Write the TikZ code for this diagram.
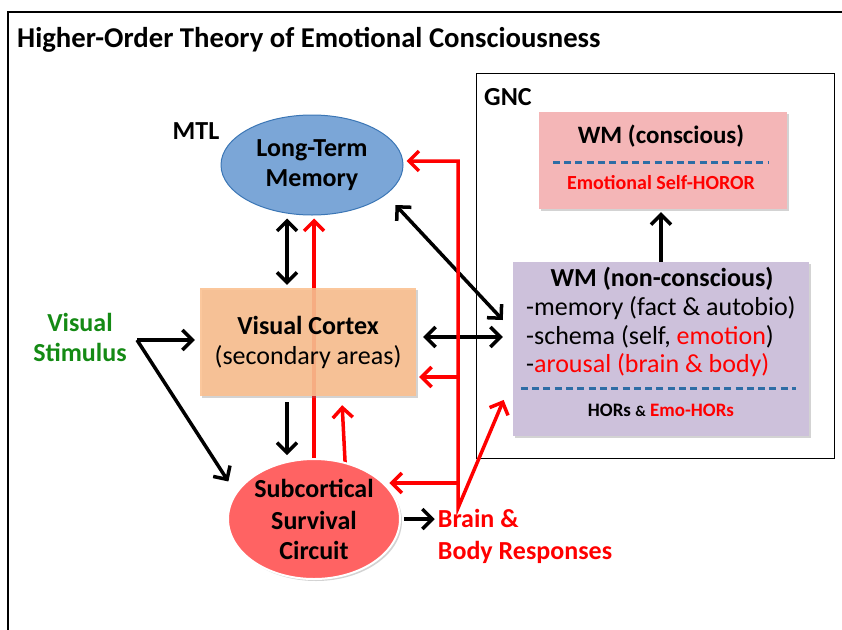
\documentclass[tikz,border=0pt]{standalone}
\usepackage{fontspec}
\setmainfont{Carlito}
\usetikzlibrary{positioning,arrows.meta,calc,shadows,shapes.geometric}
\tikzset{>={Straight Barb[length=10pt,width=20pt]}}
\definecolor{ltmblue}{HTML}{7BA6D7}
\definecolor{ltmedge}{HTML}{3B76B5}
\definecolor{vcpeach}{HTML}{FBBF8E}
\definecolor{wmpink}{HTML}{F4B6B7}
\definecolor{wmpurple}{HTML}{CDC1DB}
\definecolor{sscred}{HTML}{FF6363}
\definecolor{dashblue}{HTML}{2E6DA5}
\definecolor{stimgreen}{HTML}{148A14}
\pgfdeclarelayer{bg}
\pgfsetlayers{bg,main}

\begin{document}
\begin{tikzpicture}[x=1pt, y=-1pt, shorten >=3pt, shorten <=3pt,
    every node/.style={inner sep=0pt, font=\fontsize{26}{30}\selectfont},
    bold/.style={font=\bfseries\fontsize{26}{30}\selectfont},
    shade/.style={drop shadow={opacity=0.35, shadow xshift=2pt, shadow yshift=-2pt}},
    box/.style={rectangle, shade},
    oval/.style={ellipse},
    blk/.style={draw=black, line width=3.5pt},
    rd/.style={draw=red, line width=3.5pt},
    divider/.style={draw=dashblue, line width=3pt, dash pattern=on 7pt off 4.3pt, shorten >=0pt, shorten <=0pt}]
  \useasboundingbox (0,0) rectangle (842,629);
  \clip (0,0) rectangle (842,629);
  \draw[line width=2.5pt, shorten >=0pt, shorten <=0pt] (8,12) rectangle (870,660);

  \node[anchor=west, font=\bfseries\fontsize{28.7}{32}\selectfont] (title) at (17,40)
    {Higher-Order Theory of Emotional Consciousness};

  % global workspace
  \node[draw, line width=1.3pt, anchor=north west, minimum width=358pt, minimum height=385pt] (gnc) at (476,73) {};
  \node[bold, anchor=west] (gnclbl) at (484,97) {GNC};
  \node[box, fill=wmpink, minimum width=248pt, minimum height=97pt] (wmc) at (663,160.5) {};
  \node[font=\bfseries\fontsize{25}{30}\selectfont] (wmctitle) at (661,136) {WM (conscious)};
  \node[font=\bfseries\fontsize{20}{24}\selectfont, text=red] (horor) at (661,183) {Emotional Self-HOROR};
  \draw[divider] ($(wmc.west)+(14,1.5)$) -- ($(wmc.east)+(-19,1.5)$);

  \node[box, fill=wmpurple, minimum width=296pt, minimum height=174pt] (wmn) at (661,349) {};
  \node[bold] (wmntitle) at (662,279) {WM (non-conscious)};
  \node[anchor=west] (mem) at (526,308) {-memory (fact \& autobio)};
  \node[anchor=west] (schema) at (526,337) {-schema (self, \textcolor{red}{emotion})};
  \node[anchor=west] (arousal) at (526,365) {-\textcolor{red}{arousal (brain \& body)}};
  \draw[divider] ($(wmn.west)+(8,39)$) -- ($(wmn.east)+(-13,39)$);
  \node[font=\bfseries\fontsize{19}{22}\selectfont] (hors) at (661,410)
    {HORs {\fontsize{15}{18}\selectfont\&} \textcolor{red}{Emo-HORs}};

  % left side
  \node[oval, fill=ltmblue, draw=ltmedge, line width=1pt, minimum width=182pt, minimum height=100pt, align=center, bold] (ltm) at (312,165) {Long-Term\\Memory};
  \node[bold] (mtl) at (196,131) {MTL};
  \node[box, fill=vcpeach, fill opacity=0.88, text opacity=1, minimum width=216pt, minimum height=108pt, align=center] (vc) at (308,342)
    {\textbf{Visual Cortex}\\(secondary areas)};
  \node[oval, fill=sscred, draw=white, line width=2pt, shade, minimum width=172pt, minimum height=120pt, align=center, bold] (ssc) at (314,519)
    {Subcortical\\[2pt]Survival\\Circuit};
  \node[bold, text=stimgreen, align=center] (stim) at (80,337) {Visual\\Stimulus};
  \node[bold, align=left, text=red] (resp) at (525,536) {Brain \&\\[2pt]Body Responses};

  \coordinate (fork) at (137,340);
  \coordinate (bustop) at (458,161);
  \coordinate (busbot) at (458,508);
  \coordinate (busvc) at (458,377);
  \coordinate (busssc) at (458,483);

  \begin{pgfonlayer}{bg}
    \draw[rd,->] (ssc.center -| ssc.north) -- (ssc.north |- ltm.south);
    \draw[rd,->] ([xshift=34pt]ssc.center) -- ([xshift=34pt,yshift=-6pt]vc.south);
  \end{pgfonlayer}

  \path[->]
    (fork) edge[blk, shorten <=0pt, shorten >=5pt] (fork -| vc.west)
    (fork) edge[blk, shorten <=0pt] ($(ssc.west)+(3,-35)$)
    ([xshift=-21pt,yshift=-6pt]vc.south) edge[blk, shorten <=0pt] ([xshift=-21pt]vc.south |- ssc.north)
    (ssc.east) edge[blk] (ssc.east -| resp.west)
    (wmn.north) edge[blk, shorten <=0pt] (wmn.north |- wmc.south);
  \path[<->]
    ([xshift=-21pt]vc.north) edge[blk] ([xshift=-21pt]vc.north |- ltm.south)
    ($(ltm.east)+(-8,40)$) edge[blk, shorten <=0pt, shorten >=0pt] ($(wmn.west)+(-10,-29)$)
    ([yshift=5pt]vc.east) edge[blk, shorten <=7pt, shorten >=10pt] ([yshift=5pt]vc.east -| wmn.west);

  \draw[rd,<->] (bustop -| ltm.east) -- (bustop) -- (busbot) -- ($(wmn.south west)+(-8,-39)$);
  \draw[rd,->,shorten <=0pt] (busvc) -- (busvc -| vc.east);
  \draw[rd,->,shorten <=0pt] (busssc) -- (busssc -| ssc.25);
\end{tikzpicture}
\end{document}
